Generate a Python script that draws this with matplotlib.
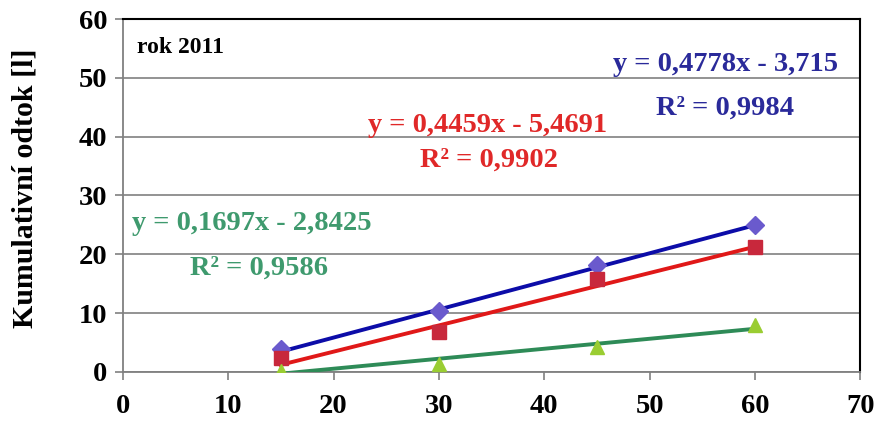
import numpy as np
import matplotlib.pyplot as plt

plt.rcParams['font.family'] = ['Liberation Serif', 'DejaVu Serif']
plt.rcParams['font.weight'] = 'bold'

# time [min] and cumulative runoff [l]
cas = [15, 30, 45, 60]
odtok_modra = [3.9, 10.3, 18.2, 25.0]
odtok_cervena = [2.4, 6.8, 15.8, 21.3]
odtok_zelena = [0.1, 1.3, 4.2, 8.0]

# linear trend coefficients (slope, intercept, R2)
trend_modra = (0.4778, -3.715, 0.9984)
trend_cervena = (0.4459, -5.4691, 0.9902)
trend_zelena = (0.1697, -2.8425, 0.9586)

def rovnice(k, q):
    return 'y = ' + f'{k:.4f}'.replace('.', ',') + 'x - ' + f'{abs(q):g}'.replace('.', ',')

fig = plt.figure(figsize=(8.77, 4.32), dpi=100)
ax = fig.add_axes([0.140, 0.139, 0.841, 0.817])

ax.set_xlim(0, 70)
ax.set_ylim(0, 60)
ax.set_xticks(range(0, 71, 10))
ax.set_yticks(range(0, 61, 10))
ax.yaxis.grid(True, color='#8a8a8a', lw=1.3)
ax.set_axisbelow(True)

xs = np.array([15, 60])
serie = [
    (odtok_modra, trend_modra, '#0c0ca8', 'D', '#6a5acd', 9.5),
    (odtok_cervena, trend_cervena, '#e01818', 's', '#c8283c', 10.5),
    (odtok_zelena, trend_zelena, '#2e8b57', '^', '#9acd32', 10.5),
]
for data, (k, q, r2), barva, zn, vypln, ms in serie:
    ax.plot(xs, k * xs + q, color=barva, lw=2.8, zorder=3)
    ax.plot(cas, data, linestyle='none', marker=zn, ms=ms, mfc=vypln,
            mec=vypln, zorder=4)

# equations of the trend lines
popisky = [
    (trend_modra, '#2a2a9a', (0.817, 0.872), (0.817, 0.748)),
    (trend_cervena, '#e02828', (0.494, 0.697), (0.497, 0.600)),
    (trend_zelena, '#3f9a6e', (0.175, 0.422), (0.185, 0.295)),
]
for (k, q, r2), barva, p1, p2 in popisky:
    ax.text(*p1, rovnice(k, q), transform=ax.transAxes, color=barva,
            fontsize=20.5, ha='center', va='center', fontweight='bold')
    ax.text(*p2, 'R² = ' + f'{r2:.4f}'.replace('.', ','), transform=ax.transAxes,
            color=barva, fontsize=20.5, ha='center', va='center', fontweight='bold')

ax.text(0.019, 0.92, 'rok 2011', transform=ax.transAxes, fontsize=17,
        ha='left', va='center', fontweight='bold')

ax.set_ylabel('Kumulativní odtok [l]', fontsize=21.5, fontweight='bold')
ax.yaxis.set_label_coords(-0.114, 0.52)
ax.tick_params(axis='both', labelsize=20.5, length=6, color='#808080', width=1.2,
               direction='out')
ax.tick_params(axis='x', pad=10)
ax.tick_params(axis='y', pad=5)
for lab in ax.get_xticklabels() + ax.get_yticklabels():
    lab.set_fontweight('bold')

ax.spines['left'].set_color('#808080')
ax.spines['bottom'].set_color('#808080')
ax.spines['left'].set_linewidth(1.3)
ax.spines['bottom'].set_linewidth(1.3)
ax.spines['top'].set_linewidth(1.5)
ax.spines['right'].set_linewidth(1.5)

plt.savefig('out.png', dpi=100)
